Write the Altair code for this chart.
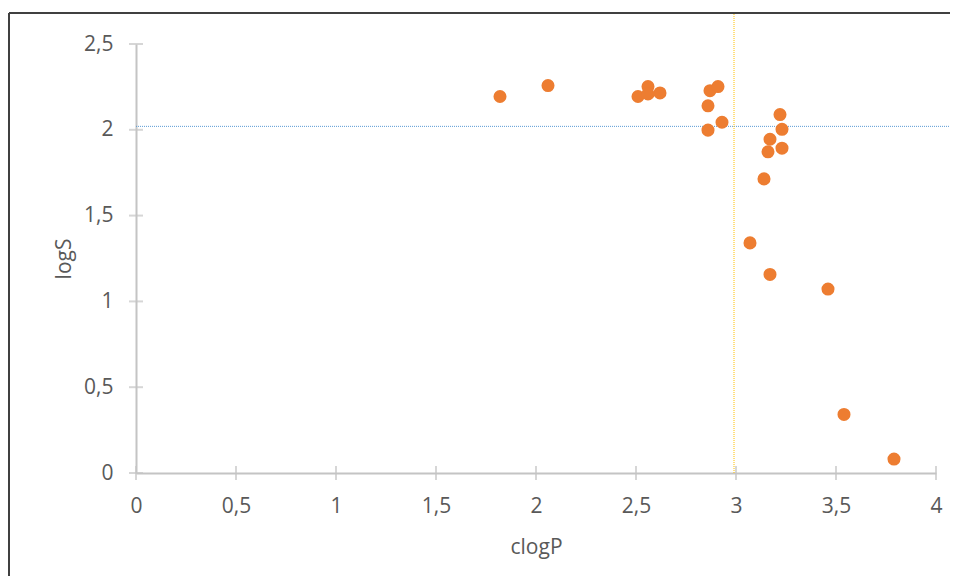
import altair as alt
import pandas as pd

# Data
clogP = [1.82, 2.06, 2.51, 2.56, 2.56, 2.62, 2.87, 2.91, 2.86, 2.93, 2.86,
         3.22, 3.23, 3.17, 3.16, 3.23, 3.14, 3.07, 3.17, 3.46, 3.54, 3.79]
logS = [2.194, 2.258, 2.194, 2.252, 2.209, 2.215, 2.228, 2.252, 2.140, 2.044, 1.998,
        2.089, 2.003, 1.945, 1.872, 1.893, 1.714, 1.341, 1.157, 1.072, 0.341, 0.081]
h_ref = [2.02]
v_ref = [2.99]
x_ticks = [0, 0.5, 1, 1.5, 2, 2.5, 3, 3.5, 4]
y_ticks = [0, 0.5, 1, 1.5, 2, 2.5]

FONT = "Open Sans"
TXT = "#595959"
AX = "#c4c4c4"

df = pd.DataFrame({"clogP": clogP, "logS": logS})
xs = alt.Scale(domain=[0, 4], nice=False, zero=False)
ys = alt.Scale(domain=[0, 2.5], nice=False, zero=False)
lab = "replace(format(datum.value, '~g'), '.', ',')"

one = pd.DataFrame({"a": [0]})
frame_top = alt.Chart(one).mark_rule(color="#404040", strokeWidth=2).encode(
    x=alt.value(-127), x2=alt.value(814), y=alt.value(-31))
frame_left = alt.Chart(one).mark_rule(color="#404040", strokeWidth=2).encode(
    x=alt.value(-127), y=alt.value(-31), y2=alt.value(560))

points = alt.Chart(df).mark_circle(size=170, opacity=1, color="#ED7D31").encode(
    x=alt.X("clogP:Q", scale=xs, axis=alt.Axis(
        values=x_ticks, labelExpr=lab, ticks=False, grid=False, domainColor=AX,
        domainWidth=2, labelFont=FONT, labelFontSize=21, labelColor=TXT,
        labelPadding=22, labelFlush=False, title="clogP", titleFont=FONT,
        titleFontSize=21, titleFontWeight="normal", titleColor=TXT,
        titleBaseline="alphabetic", titleY=80)),
    y=alt.Y("logS:Q", scale=ys, axis=alt.Axis(
        values=y_ticks, labelExpr=lab, ticks=False, grid=False, domainColor=AX,
        domainWidth=2, labelFont=FONT, labelFontSize=21, labelColor=TXT,
        labelPadding=23, labelFlush=False, title="logS", titleFont=FONT,
        titleFontSize=21, titleFontWeight="normal", titleColor=TXT,
        titleBaseline="alphabetic", titleX=-66, titleAngle=-90)),
)

xt = alt.Chart(pd.DataFrame({"t": x_ticks, "z": [0] * len(x_ticks)})).mark_tick(
    orient="vertical", size=14, thickness=2, color=AX
).encode(x=alt.X("t:Q", scale=xs), y=alt.Y("z:Q", scale=ys))

yt = alt.Chart(pd.DataFrame({"t": y_ticks, "z": [0] * len(y_ticks)})).mark_tick(
    orient="horizontal", size=14, thickness=2, color=AX
).encode(y=alt.Y("t:Q", scale=ys), x=alt.X("z:Q", scale=xs))

hline = alt.Chart(pd.DataFrame({"v": h_ref})).mark_rule(
    color="#5B9BD5", strokeWidth=1, strokeDash=[1, 1]
).encode(y=alt.Y("v:Q", scale=ys), x=alt.value(0), x2=alt.value(814))

vline = alt.Chart(pd.DataFrame({"v": v_ref, "z": [0]})).mark_rule(
    color="#FFC000", strokeWidth=1, strokeDash=[1, 1]
).encode(x=alt.X("v:Q", scale=xs), y=alt.Y("z:Q", scale=ys), y2=alt.value(-31))

chart = alt.layer(frame_top, frame_left, hline, vline, xt, yt, points).properties(
    width=800, height=429,
    autosize=alt.AutoSizeParams(type="none"),
    padding={"left": 128, "top": 36, "right": 14, "bottom": 103},
    background="white",
).configure_view(stroke=None)

chart.save("out.html", embed_options={"renderer": "svg", "actions": False})
